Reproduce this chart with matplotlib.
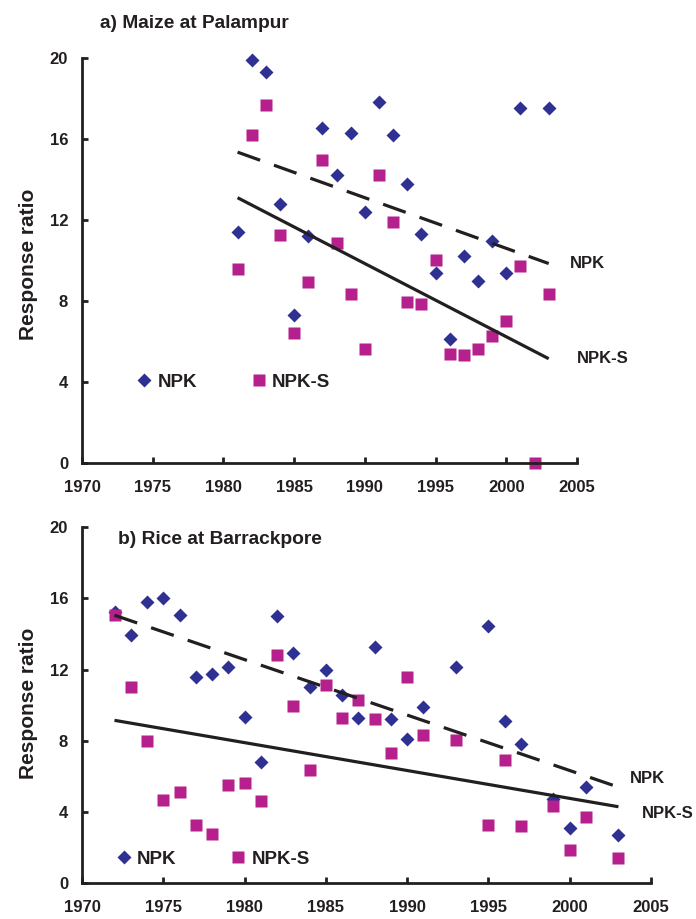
import matplotlib
matplotlib.use('Agg')
import matplotlib.pyplot as plt

plt.rcParams['font.family'] = ['Liberation Sans', 'DejaVu Sans']
plt.rcParams['font.weight'] = 'bold'

# a) Maize at Palampur
maize_npk_years = [1981, 1982, 1983, 1984, 1985, 1986, 1987, 1988, 1989, 1990, 1991,
                   1992, 1993, 1994, 1995, 1996, 1997, 1998, 1999, 2000, 2001, 2003]
maize_npk = [11.4, 19.9, 19.3, 12.8, 7.3, 11.2, 16.55, 14.2, 16.3, 12.4, 17.85,
             16.2, 13.8, 11.3, 9.4, 6.1, 10.2, 9.0, 10.95, 9.4, 17.55, 17.55]
maize_npks_years = [1981, 1982, 1983, 1984, 1985, 1986, 1987, 1988, 1989, 1990, 1991,
                    1992, 1993, 1994, 1995, 1996, 1997, 1998, 1999, 2000, 2001, 2002, 2003]
maize_npks = [9.6, 16.2, 17.7, 11.25, 6.4, 8.95, 14.95, 10.85, 8.35, 5.65, 14.2,
              11.9, 7.95, 7.85, 10.0, 5.4, 5.35, 5.65, 6.25, 7.0, 9.75, 0.0, 8.35]
# fitted trends: [start, end] of each line
maize_trend_years = [1981, 2003]
maize_npk_trend = [15.35, 9.85]
maize_npks_trend = [13.1, 5.15]

# b) Rice at Barrackpore
rice_years = [1972, 1973, 1974, 1975, 1976, 1977, 1978, 1979, 1980, 1981, 1982, 1983,
              1984, 1985, 1986, 1987, 1988, 1989, 1990, 1991, 1993, 1995, 1996, 1997,
              1999, 2000, 2001, 2003]
rice_npk = [15.25, 13.95, 15.8, 16.0, 15.05, 11.6, 11.75, 12.15, 9.35, 6.8, 15.0, 12.95,
            11.0, 12.0, 10.55, 9.3, 13.25, 9.25, 8.1, 9.9, 12.15, 14.45, 9.1, 7.8,
            4.75, 3.1, 5.4, 2.7]
rice_npks = [15.05, 11.0, 8.0, 4.7, 5.15, 3.25, 2.75, 5.5, 5.65, 4.65, 12.8, 9.95,
             6.35, 11.15, 9.3, 10.3, 9.25, 7.3, 11.6, 8.35, 8.05, 3.25, 6.9, 3.2,
             4.35, 1.85, 3.7, 1.4]
rice_trend_years = [1972, 2003]
rice_npk_trend = [15.05, 5.4]
rice_npks_trend = [9.15, 4.3]

NAVY = '#2E3192'
MAGENTA = '#B5208C'
INK = '#231F20'


def trend(ax, xs, ys, dashed, label, dx, dy):
    line, = ax.plot(xs, ys, color=INK, lw=2.3, solid_capstyle='butt')
    if dashed:
        line.set_dashes((7.5, 4.6))
    ax.annotate(label, (xs[-1], ys[-1]), xytext=(dx, dy), textcoords='offset points',
                fontsize=12, fontweight='bold', color=INK, va='center', ha='left',
                annotation_clip=False)


def style_axes(ax):
    ax.set_xlim(1970, 2005)
    ax.set_ylim(0, 20)
    ax.set_xticks(range(1970, 2006, 5))
    ax.set_yticks(range(0, 21, 4))
    for s in ['top', 'right']:
        ax.spines[s].set_visible(False)
    for s in ['left', 'bottom']:
        ax.spines[s].set_linewidth(2.0)
        ax.spines[s].set_color(INK)
    ax.tick_params(direction='in', length=4, width=2, color=INK, labelsize=12,
                   labelcolor=INK)
    ax.tick_params(axis='y', pad=10)
    ax.tick_params(axis='x', pad=12)
    for t in ax.get_xticklabels() + ax.get_yticklabels():
        t.set_fontweight('bold')


fig = plt.figure(figsize=(6.96, 9.19), dpi=100)
ax1 = fig.add_axes([0.1178, 0.4962, 0.7112, 0.4407])
ax2 = fig.add_axes([0.1178, 0.0388, 0.8175, 0.3877])

ax1.plot(maize_npk_years, maize_npk, 'D', color=NAVY, ms=7.0, mec='none',
         label='NPK', clip_on=False)
ax1.plot(maize_npks_years, maize_npks, 's', color=MAGENTA, ms=8.2, mec='none',
         label='NPK-S', clip_on=False)
trend(ax1, maize_trend_years, maize_npk_trend, True, 'NPK', 15.5, 0)
trend(ax1, maize_trend_years, maize_npks_trend, False, 'NPK-S', 20, 0)

ax2.plot(rice_years, rice_npk, 'D', color=NAVY, ms=7.0, mec='none',
         label='NPK', clip_on=False)
ax2.plot(rice_years, rice_npks, 's', color=MAGENTA, ms=8.2, mec='none',
         label='NPK-S', clip_on=False)
trend(ax2, rice_trend_years, rice_npk_trend, True, 'NPK', 8, 6)
trend(ax2, rice_trend_years, rice_npks_trend, False, 'NPK-S', 17, -5)

for ax in (ax1, ax2):
    style_axes(ax)

leg_kw = dict(ncol=2, frameon=False, loc='center left', borderpad=0, borderaxespad=0,
              handlelength=1.0, handletextpad=0.2, columnspacing=2.8, numpoints=1,
              prop={'weight': 'bold', 'size': 13.5})
leg1 = ax1.legend(bbox_to_anchor=(0.107, 0.2), **leg_kw)
leg2 = ax2.legend(bbox_to_anchor=(0.0568, 0.068), **leg_kw)
for leg in (leg1, leg2):
    for t in leg.get_texts():
        t.set_color(INK)

fig.text(100 / 696, 1 - 23 / 919, 'a) Maize at Palampur', fontsize=13.8,
         fontweight='bold', color=INK, ha='left', va='center')
fig.text(118 / 696, 1 - 540 / 919, 'b) Rice at Barrackpore', fontsize=13.8,
         fontweight='bold', color=INK, ha='left', va='center')
fig.text(29 / 696, 1 - 264 / 919, 'Response ratio', fontsize=15, fontweight='bold',
         color=INK, rotation=90, ha='center', va='center')
fig.text(29 / 696, 1 - 703 / 919, 'Response ratio', fontsize=15, fontweight='bold',
         color=INK, rotation=90, ha='center', va='center')

fig.savefig('out.png', dpi=100)
